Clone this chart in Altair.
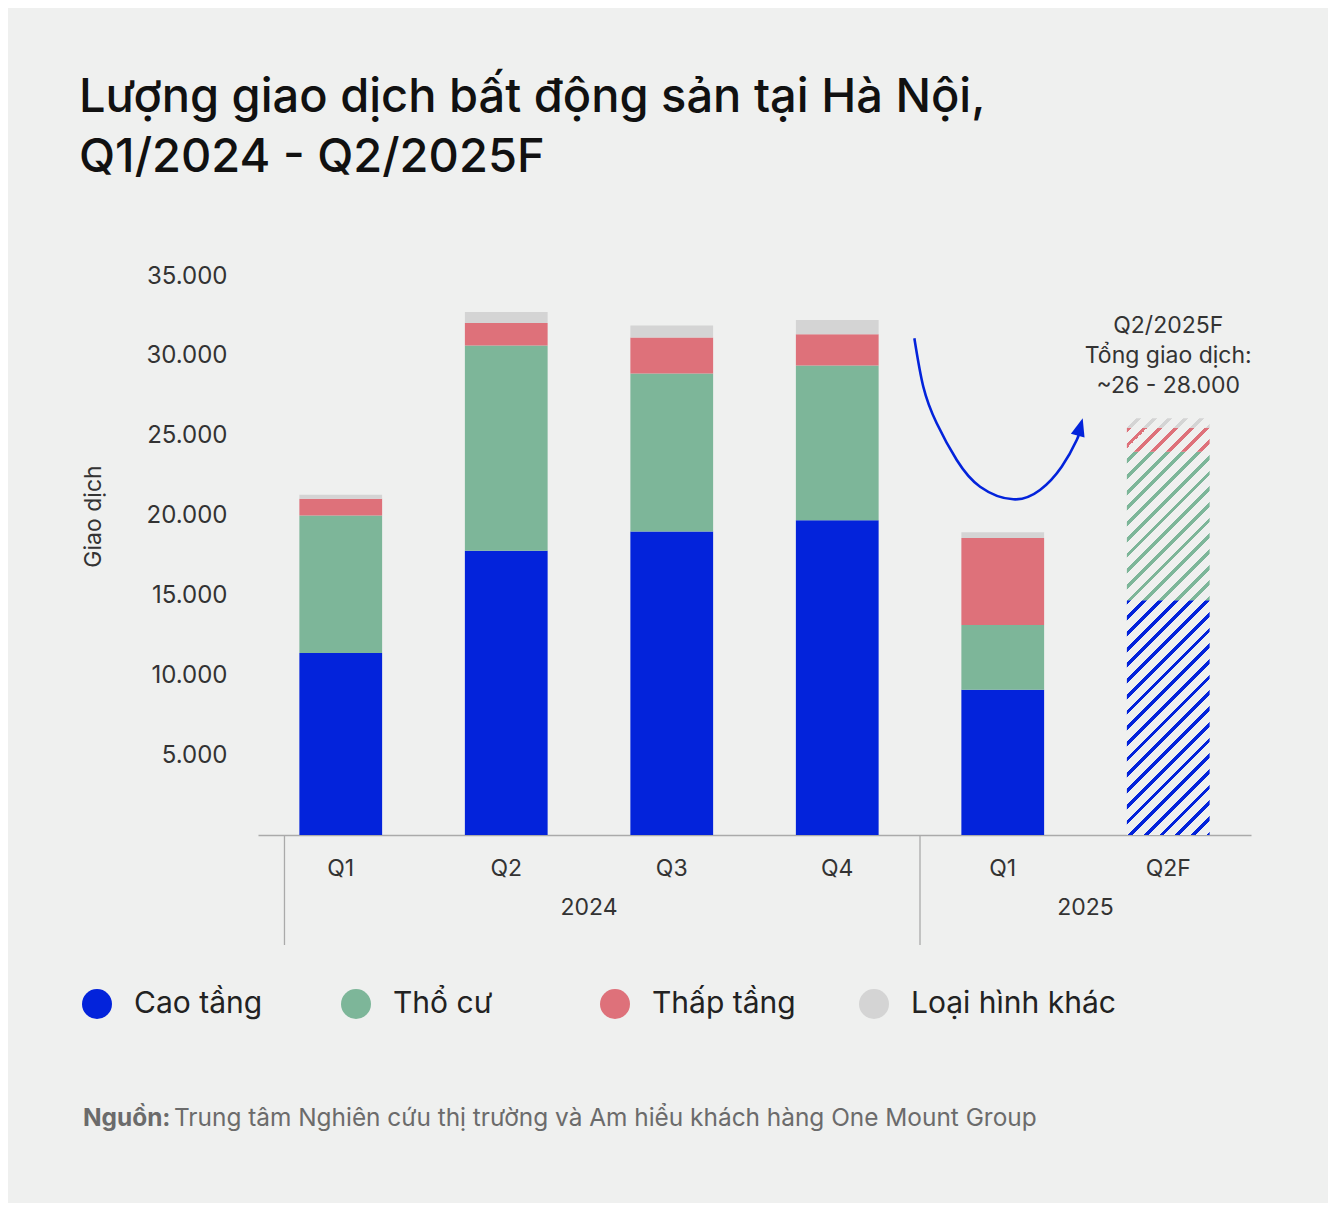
import altair as alt
import pandas as pd

# ---------------- data ----------------
quarters = ["Q1", "Q2", "Q3", "Q4", "Q1", "Q2F"]
years = ["2024", "2024", "2024", "2024", "2025", "2025"]
types = ["Cao tầng", "Thổ cư", "Thấp tầng", "Loại hình khác"]
colors = ["#0323db", "#7db699", "#de717a", "#d4d4d4"]

# actual values (first five quarters)
cao_tang = [11400, 17800, 19000, 19700, 9100]
tho_cu = [8600, 12850, 9900, 9700, 4050]
thap_tang = [1050, 1400, 2250, 1950, 5450]
loai_khac = [250, 700, 750, 900, 350]

# forecast Q2/2025F
forecast = [14700, 9300, 1500, 600]

annot_lines = ["Q2/2025F", "Tổng giao dịch:", "~26 - 28.000"]
source_bold = "Nguồn:"
source_text = "Trung tâm Nghiên cứu thị trường và Am hiểu khách hàng One Mount Group"

# curved arrow path (x in band-index units, y in data units)
arrow_x = [3.966, 4.020, 4.101, 4.222, 4.363, 4.564, 4.725, 4.856, 4.947, 4.965]
arrow_y = [31100, 28069, 25777, 23479, 21808, 21019, 21601, 23060, 24732, 25300]
arrow_tip = (4.983, 26091)

sep_x = [0.16, 4.0]

# ---------------- layout constants ----------------
W, H = 993, 559
YMAX = 35000
P_IN, P_OUT = 0.5, 0.25
BG = "#eff0ef"
BLUE = colors[0]
TXT = "#333333"
FONT = "Inter"

keys = [f"{y}-{q}" for y, q in zip(years, quarters)]

rows = []
series = [cao_tang, tho_cu, thap_tang, loai_khac]
for i in range(5):
    for j, t in enumerate(types):
        rows.append({"key": keys[i], "type": t, "order": j, "value": series[j][i]})
df = pd.DataFrame(rows)

xscale = alt.Scale(domain=keys, paddingInner=P_IN, paddingOuter=P_OUT)
yscale = alt.Scale(domain=[0, YMAX], nice=False)

xaxis = alt.Axis(
    title=None, labelExpr="split(datum.value, '-')[1]", labelAngle=0,
    labelFontSize=23, labelColor=TXT, labelPadding=22, ticks=False,
    domainColor="#aaaaaa", domainWidth=1.5, grid=False, labelFont=FONT,
)
yaxis = alt.Axis(
    title="Giao dịch", values=list(range(5000, 35001, 5000)),
    labelExpr="replace(format(datum.value, ',d'), ',', '.')",
    labelFontSize=24, labelColor=TXT, labelPadding=31, domain=False, ticks=False,
    grid=False, titleFontSize=23, titleFontWeight="normal", titleColor=TXT,
    titleX=-165, titleY=240, titleAngle=-90, titleAlign="center",
    titleBaseline="middle", labelFont=FONT, titleFont=FONT,
)

solid = alt.Chart(df).mark_bar().encode(
    x=alt.X("key:N", scale=xscale, axis=xaxis, sort=keys),
    y=alt.Y("sum(value):Q", scale=yscale, axis=yaxis, stack="zero"),
    color=alt.Color(
        "type:N",
        scale=alt.Scale(domain=types, range=colors),
        legend=alt.Legend(
            title=None, orient="none", legendX=-176, legendY=713,
            direction="horizontal", columns=4, gridAlign="all",
            columnPadding=2, symbolType="circle", symbolSize=900,
            symbolStrokeWidth=0, labelFontSize=30, labelColor="#222222",
            labelOffset=22, labelLimit=400, labelFont=FONT,
        ),
    ),
    order=alt.Order("order:Q"),
)

# ---------------- hatched forecast bar ----------------
n = len(keys)
step = W / (n - P_IN + 2 * P_OUT)
bw = step * (1 - P_IN)
x0 = step * P_OUT + (n - 1) * step
PERIOD, THICK = 15.7, 4.8


def hatch(color, ytop_px, h):
    w = bw
    L = w + h
    s = L / (w * w + h * h)
    c = (x0 + ytop_px) % PERIOD
    stops = [{"offset": 0, "color": BG}]
    k = 0
    while k * PERIOD - c < L:
        a = max(0.0, k * PERIOD - c)
        b = min(L, k * PERIOD - c + THICK)
        if b > a:
            stops += [
                {"offset": a / L, "color": BG},
                {"offset": a / L, "color": color},
                {"offset": b / L, "color": color},
                {"offset": b / L, "color": BG},
            ]
        k += 1
    stops.append({"offset": 1, "color": BG})
    return {"gradient": "linear", "x1": 0, "y1": 0, "x2": w * s, "y2": h * s,
            "stops": stops}


hatch_layers = []
base = 0
for t, v, col in zip(types, forecast, colors):
    top = base + v
    ytop = H * (1 - top / YMAX)
    hpx = H * v / YMAX
    d = pd.DataFrame([{"key": keys[-1], "y0": base, "y1": top, "type": t}])
    hatch_layers.append(
        alt.Chart(d).mark_bar(fill=hatch(col, ytop, hpx), strokeWidth=0).encode(
            x=alt.X("key:N", scale=xscale, axis=xaxis, sort=keys),
            y=alt.Y("y0:Q", scale=yscale, axis=yaxis),
            y2="y1:Q",
        )
    )
    base = top
total_forecast = base

bars = alt.layer(solid, *hatch_layers)

# ---------------- overlay (annotations) ----------------
oscale = alt.Scale(domain=[0, n], nice=False, zero=False)
oy = alt.Scale(domain=[0, YMAX], nice=False)

curve = alt.Chart(pd.DataFrame({"ax": arrow_x, "ay": arrow_y, "i": range(len(arrow_x))})).mark_line(
    interpolate="natural", color=BLUE, strokeWidth=2.6
).encode(
    x=alt.X("ax:Q", scale=oscale, axis=None),
    y=alt.Y("ay:Q", scale=oy, axis=None),
    order="i:Q",
)

head = alt.Chart(pd.DataFrame({"ax": [arrow_tip[0]], "ay": [arrow_tip[1]]})).mark_point(
    shape="M0,0L0.55,1.4L-0.55,1.4Z", filled=True, size=665, angle=16,
    color=BLUE, opacity=1, strokeWidth=0,
).encode(x=alt.X("ax:Q", scale=oscale, axis=None), y=alt.Y("ay:Q", scale=oy, axis=None))

year_names = []
year_centers = []
for yv in dict.fromkeys(years):
    idx = [i for i, yy in enumerate(years) if yy == yv]
    year_names.append(yv)
    year_centers.append((min(idx) + max(idx) + 1) / 2)

year_text = alt.Chart(pd.DataFrame({"yx": year_centers, "label": year_names})).mark_text(
    fontSize=23, color=TXT, baseline="middle", font=FONT
).encode(x=alt.X("yx:Q", scale=oscale, axis=None), y=alt.value(632), text="label:N")

seps = alt.Chart(pd.DataFrame({"sx": sep_x})).mark_rule(color="#aaaaaa", strokeWidth=1.3).encode(
    x=alt.X("sx:Q", scale=oscale, axis=None), y=alt.value(H), y2=alt.value(H + 110)
)

annot = alt.Chart(pd.DataFrame({"ax": [n - 0.5], "ay": [total_forecast]})).mark_text(
    fontSize=23, color=TXT, baseline="bottom", align="center", lineHeight=30,
    dy=-80, font=FONT,
).encode(
    x=alt.X("ax:Q", scale=oscale, axis=None), y=alt.Y("ay:Q", scale=oy, axis=None),
    text=alt.value(annot_lines),
)

src1 = alt.Chart(pd.DataFrame({"t": [source_bold]})).mark_text(
    fontSize=24.4, color="#6b6b6b", fontWeight="bold", align="left", baseline="middle", font=FONT
).encode(x=alt.value(-175), y=alt.value(843), text="t:N")
src2 = alt.Chart(pd.DataFrame({"t": [source_text]})).mark_text(
    fontSize=24.4, color="#6b6b6b", align="left", baseline="middle", font=FONT
).encode(x=alt.value(-84), y=alt.value(843), text="t:N")

overlay = alt.layer(curve, head, year_text, seps, annot, src1, src2)

chart = alt.layer(bars, overlay).resolve_scale(x="independent", y="independent").properties(
    width=W, height=H,
    title=alt.TitleParams(
        text=["Lượng giao dịch bất động sản tại Hà Nội,", "Q1/2024 - Q2/2025F"],
        anchor="start", fontSize=47, fontWeight=500, color="#111111",
        lineHeight=60, offset=82, dx=-3, font=FONT,
    ),
    autosize=alt.AutoSizeParams(type="none"),
    padding={"left": 250, "top": 268, "right": 77, "bottom": 368},
    background=BG,
).configure(font=FONT).configure_view(stroke="transparent", strokeWidth=0)

chart.save("out.html", embed_options={"renderer": "svg", "actions": False})
